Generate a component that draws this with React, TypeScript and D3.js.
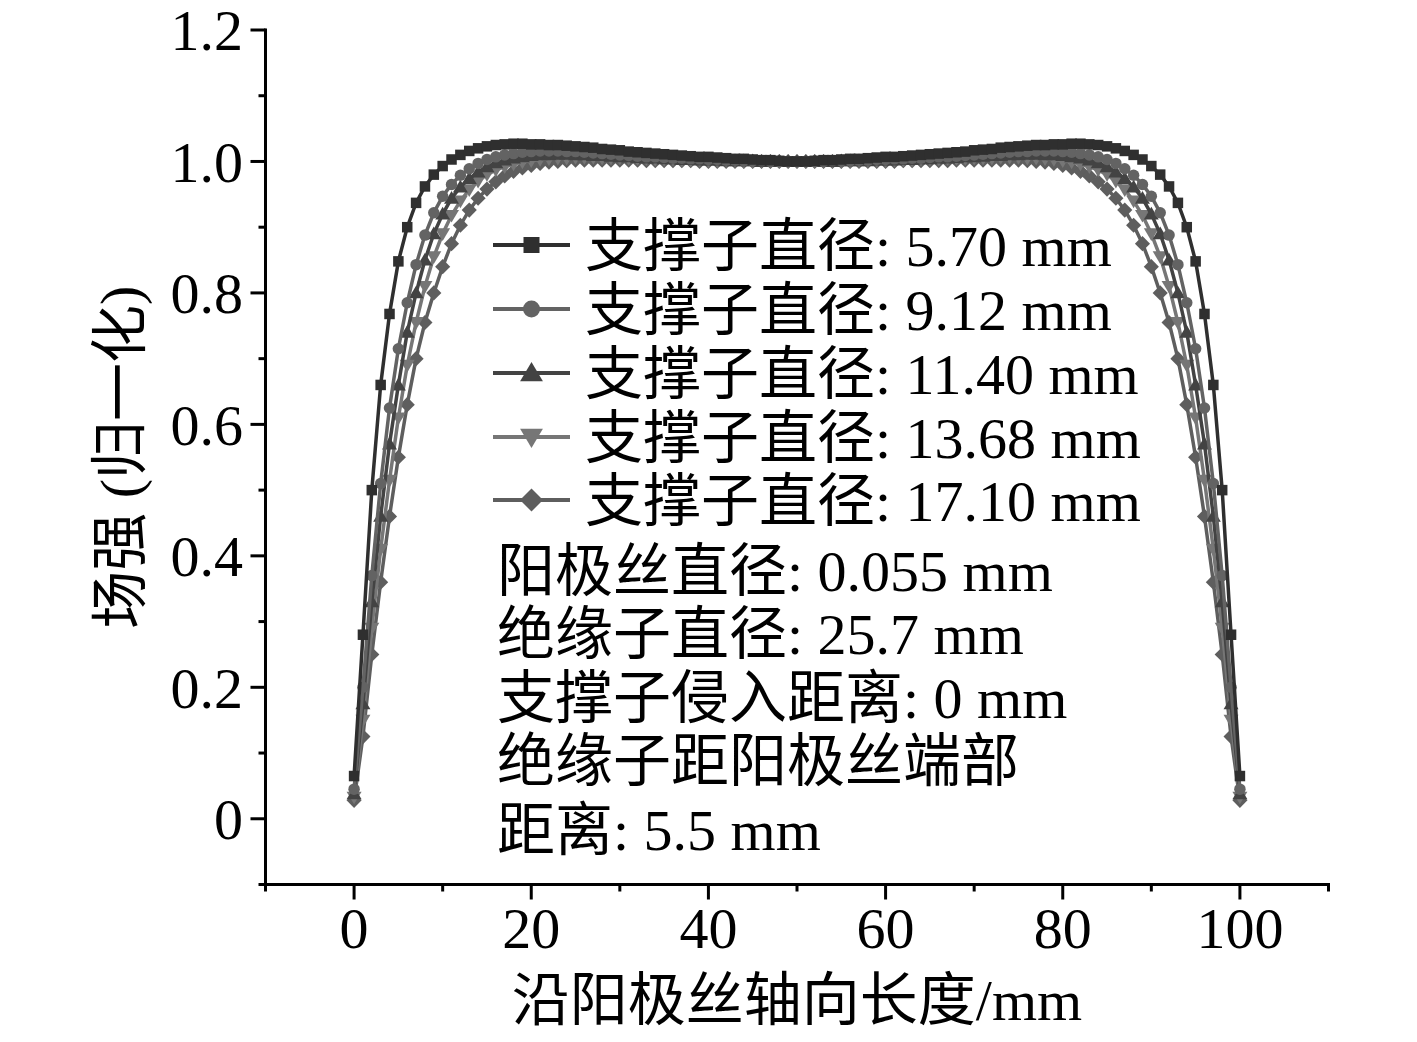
import React from "react";
import * as d3 from "d3";

// x positions along the anode wire (mm)
const xPositions: number[] = d3.range(0, 101, 1);

const seriesLabels = [
  "支撑子直径: 5.70 mm",
  "支撑子直径: 9.12 mm",
  "支撑子直径: 11.40 mm",
  "支撑子直径: 13.68 mm",
  "支撑子直径: 17.10 mm",
];

const s570: number[] = [
  0.065, 0.28, 0.50, 0.66, 0.768, 0.848, 0.900, 0.937, 0.962, 0.980,
  0.993, 1.003, 1.010, 1.016, 1.020, 1.023, 1.025, 1.026, 1.027, 1.027,
  1.026, 1.026, 1.025, 1.025, 1.024, 1.023, 1.022, 1.021, 1.019, 1.018,
  1.017, 1.015, 1.014, 1.013, 1.012, 1.011, 1.010, 1.009, 1.008, 1.007,
  1.007, 1.006, 1.005, 1.004, 1.004, 1.003, 1.002, 1.002, 1.001, 1.000,
  1.000,
  1.000, 1.001, 1.002, 1.002, 1.003, 1.004, 1.004, 1.005, 1.006, 1.007,
  1.007, 1.008, 1.009, 1.010, 1.011, 1.012, 1.013, 1.014, 1.015, 1.017,
  1.018, 1.019, 1.021, 1.022, 1.023, 1.024, 1.025, 1.025, 1.026, 1.026,
  1.027, 1.027, 1.026, 1.025, 1.023, 1.020, 1.016, 1.010, 1.003, 0.993,
  0.980, 0.962, 0.937, 0.900, 0.848, 0.768, 0.66, 0.50, 0.28, 0.065,
];

const s912: number[] = [
  0.045, 0.20, 0.37, 0.51, 0.625, 0.715, 0.785, 0.843, 0.888, 0.922,
  0.947, 0.965, 0.979, 0.989, 0.997, 1.003, 1.007, 1.010, 1.012, 1.014,
  1.015, 1.016, 1.016, 1.016, 1.015, 1.015, 1.014, 1.013, 1.012, 1.011,
  1.010, 1.009, 1.008, 1.007, 1.007, 1.006, 1.005, 1.005, 1.004, 1.004,
  1.003, 1.003, 1.002, 1.002, 1.001, 1.001, 1.001, 1.000, 1.000, 1.000,
  1.000,
  1.000, 1.000, 1.000, 1.001, 1.001, 1.001, 1.002, 1.002, 1.003, 1.003,
  1.004, 1.004, 1.005, 1.005, 1.006, 1.007, 1.007, 1.008, 1.009, 1.010,
  1.011, 1.012, 1.013, 1.014, 1.015, 1.015, 1.016, 1.016, 1.016, 1.015,
  1.014, 1.012, 1.010, 1.007, 1.003, 0.997, 0.989, 0.979, 0.965, 0.947,
  0.922, 0.888, 0.843, 0.785, 0.715, 0.625, 0.51, 0.37, 0.20, 0.045,
];

const s1140: number[] = [
  0.038, 0.175, 0.33, 0.46, 0.57, 0.66, 0.74, 0.80, 0.85, 0.89,
  0.92, 0.944, 0.961, 0.974, 0.984, 0.992, 0.998, 1.002, 1.005, 1.007,
  1.009, 1.010, 1.010, 1.011, 1.011, 1.010, 1.010, 1.009, 1.009, 1.008,
  1.007, 1.007, 1.006, 1.005, 1.005, 1.004, 1.004, 1.003, 1.003, 1.002,
  1.002, 1.002, 1.001, 1.001, 1.001, 1.001, 1.000, 1.000, 1.000, 1.000,
  1.000,
  1.000, 1.000, 1.000, 1.000, 1.001, 1.001, 1.001, 1.001, 1.002, 1.002,
  1.002, 1.003, 1.003, 1.004, 1.004, 1.005, 1.005, 1.006, 1.007, 1.007,
  1.008, 1.009, 1.009, 1.010, 1.010, 1.011, 1.011, 1.010, 1.010, 1.009,
  1.007, 1.005, 1.002, 0.998, 0.992, 0.984, 0.974, 0.961, 0.944, 0.92,
  0.89, 0.85, 0.80, 0.74, 0.66, 0.57, 0.46, 0.33, 0.175, 0.038,
];

const s1368: number[] = [
  0.033, 0.15, 0.29, 0.41, 0.515, 0.61, 0.69, 0.755, 0.81, 0.855,
  0.89, 0.918, 0.940, 0.957, 0.970, 0.980, 0.987, 0.992, 0.996, 0.999,
  1.001, 1.003, 1.004, 1.005, 1.005, 1.006, 1.006, 1.006, 1.005, 1.005,
  1.005, 1.004, 1.004, 1.004, 1.003, 1.003, 1.003, 1.002, 1.002, 1.002,
  1.001, 1.001, 1.001, 1.001, 1.000, 1.000, 1.000, 1.000, 1.000, 1.000,
  1.000,
  1.000, 1.000, 1.000, 1.000, 1.000, 1.000, 1.001, 1.001, 1.001, 1.001,
  1.002, 1.002, 1.002, 1.003, 1.003, 1.003, 1.004, 1.004, 1.004, 1.005,
  1.005, 1.005, 1.006, 1.006, 1.006, 1.005, 1.005, 1.004, 1.003, 1.001,
  0.999, 0.996, 0.992, 0.987, 0.980, 0.970, 0.957, 0.940, 0.918, 0.89,
  0.855, 0.81, 0.755, 0.69, 0.61, 0.515, 0.41, 0.29, 0.15, 0.033,
];

const s1710: number[] = [
  0.028, 0.125, 0.25, 0.36, 0.46, 0.55, 0.63, 0.70, 0.755, 0.80,
  0.84, 0.875, 0.903, 0.926, 0.944, 0.958, 0.969, 0.978, 0.985, 0.990,
  0.994, 0.997, 0.999, 1.000, 1.001, 1.002, 1.002, 1.002, 1.002, 1.002,
  1.002, 1.002, 1.002, 1.001, 1.001, 1.001, 1.001, 1.001, 1.001, 1.000,
  1.000, 1.000, 1.000, 1.000, 1.000, 1.000, 1.000, 1.000, 1.000, 1.000,
  1.000,
  1.000, 1.000, 1.000, 1.000, 1.000, 1.000, 1.000, 1.000, 1.000, 1.000,
  1.000, 1.001, 1.001, 1.001, 1.001, 1.001, 1.001, 1.002, 1.002, 1.002,
  1.002, 1.002, 1.002, 1.002, 1.002, 1.001, 1.000, 0.999, 0.997, 0.994,
  0.990, 0.985, 0.978, 0.969, 0.958, 0.944, 0.926, 0.903, 0.875, 0.84,
  0.80, 0.755, 0.70, 0.63, 0.55, 0.46, 0.36, 0.25, 0.125, 0.028,
];

const seriesValues: number[][] = [s570, s912, s1140, s1368, s1710];
const seriesColors = ["#2f2f2f", "#636363", "#434343", "#767676", "#5e5e5e"];
const seriesShapes = ["square", "circle", "triangle", "invtriangle", "diamond"];

const xTicks = [0, 20, 40, 60, 80, 100];
const xMinorTicks = [-10, 10, 30, 50, 70, 90, 110];
const yTicks = [0, 0.2, 0.4, 0.6, 0.8, 1.0, 1.2];
const yTickLabels = ["0", "0.2", "0.4", "0.6", "0.8", "1.0", "1.2"];
const yMinorTicks = [-0.1, 0.1, 0.3, 0.5, 0.7, 0.9, 1.1];

const annotations = [
  "阳极丝直径: 0.055 mm",
  "绝缘子直径: 25.7 mm",
  "支撑子侵入距离: 0 mm",
  "绝缘子距阳极丝端部",
  "距离: 5.5 mm",
];

const FONT = "'Liberation Serif', 'Noto Sans CJK SC', serif";

function Marker({ shape, x, y, s, color }: { shape: string; x: number; y: number; s: number; color: string }) {
  if (shape === "square") {
    return <rect x={x - s / 2} y={y - s / 2} width={s} height={s} fill={color} />;
  }
  if (shape === "circle") {
    return <circle cx={x} cy={y} r={s / 2 + 0.5} fill={color} />;
  }
  if (shape === "triangle") {
    const h = s * 1.15;
    return (
      <path
        d={`M${x},${y - h * 0.6} L${x + h * 0.62},${y + h * 0.45} L${x - h * 0.62},${y + h * 0.45} Z`}
        fill={color}
      />
    );
  }
  if (shape === "invtriangle") {
    const h = s * 1.15;
    return (
      <path
        d={`M${x},${y + h * 0.6} L${x + h * 0.62},${y - h * 0.45} L${x - h * 0.62},${y - h * 0.45} Z`}
        fill={color}
      />
    );
  }
  const r = s * 0.72;
  return <path d={`M${x},${y - r} L${x + r},${y} L${x},${y + r} L${x - r},${y} Z`} fill={color} />;
}

export default function App() {
  const x = d3.scaleLinear().domain([-10, 110]).range([265.5, 1328.5]);
  const y = d3.scaleLinear().domain([-0.1, 1.2]).range([884.5, 30]);

  const line = d3
    .line<number>()
    .x((_, i) => x(xPositions[i]))
    .y((d) => y(d));

  const fs = 58;
  const order = [4, 3, 2, 1, 0];

  const legendX0 = 493;
  const legendX1 = 570;
  const legendRowY = [245, 309, 373, 437, 500];
  const annoRowY = [570, 633, 697, 760, 829];

  return (
    <svg
      width={1417}
      height={1042}
      style={{ position: "absolute", left: 0, top: 0, background: "#fff" }}
      fontFamily={FONT}
    >
      <rect x={0} y={0} width={1417} height={1042} fill="#fff" />

      {/* series */}
      {order.map((si) => (
        <g key={si}>
          <path d={line(seriesValues[si]) || ""} fill="none" stroke={seriesColors[si]} strokeWidth={3.5} />
          {seriesValues[si].map((v, i) => (
            <Marker key={i} shape={seriesShapes[si]} x={x(xPositions[i])} y={y(v)} s={10.5} color={seriesColors[si]} />
          ))}
        </g>
      ))}

      {/* axes */}
      <line x1={x(-10)} x2={x(-10)} y1={y(1.2) - 1.5} y2={y(-0.1) + 1.5} stroke="#000" strokeWidth={3} />
      <line x1={x(-10) - 1.5} x2={x(110) + 1.5} y1={y(-0.1)} y2={y(-0.1)} stroke="#000" strokeWidth={3} />
      {yTicks.map((t, i) => (
        <g key={"yt" + i}>
          <line x1={x(-10) - 15} x2={x(-10)} y1={y(t)} y2={y(t)} stroke="#000" strokeWidth={3} />
          <text x={243} y={y(t)} dy="0.35em" textAnchor="end" fontSize={fs} fill="#000">
            {yTickLabels[i]}
          </text>
        </g>
      ))}
      {yMinorTicks.map((t, i) => (
        <line key={"ym" + i} x1={x(-10) - 7} x2={x(-10)} y1={y(t)} y2={y(t)} stroke="#000" strokeWidth={3} />
      ))}
      {xTicks.map((t, i) => (
        <g key={"xt" + i}>
          <line x1={x(t)} x2={x(t)} y1={y(-0.1)} y2={y(-0.1) + 15} stroke="#000" strokeWidth={3} />
          <text x={x(t)} y={948} textAnchor="middle" fontSize={fs} fill="#000">
            {t}
          </text>
        </g>
      ))}
      {xMinorTicks.map((t, i) => (
        <line key={"xm" + i} x1={x(t)} x2={x(t)} y1={y(-0.1)} y2={y(-0.1) + 7} stroke="#000" strokeWidth={3} />
      ))}

      {/* axis titles */}
      <text x={x(50)} y={1020} textAnchor="middle" fontSize={fs} fill="#000">
        沿阳极丝轴向长度/mm
      </text>
      <text
        transform={`translate(120, ${(y(1.2) + y(-0.1)) / 2}) rotate(-90)`}
        textAnchor="middle"
        dy="0.35em"
        fontSize={fs}
        fill="#000"
      >
        场强 (归一化)
      </text>

      {/* legend */}
      {seriesLabels.map((lab, i) => (
        <g key={"lg" + i}>
          <line x1={legendX0} x2={legendX1} y1={legendRowY[i]} y2={legendRowY[i]} stroke={seriesColors[i]} strokeWidth={4} />
          <Marker shape={seriesShapes[i]} x={(legendX0 + legendX1) / 2} y={legendRowY[i]} s={16} color={seriesColors[i]} />
          <text x={585} y={legendRowY[i]} dy="0.36em" fontSize={fs} fill="#000">
            {lab}
          </text>
        </g>
      ))}
      {annotations.map((a, i) => (
        <text key={"an" + i} x={497} y={annoRowY[i]} dy="0.36em" fontSize={fs} fill="#000">
          {a}
        </text>
      ))}
    </svg>
  );
}
